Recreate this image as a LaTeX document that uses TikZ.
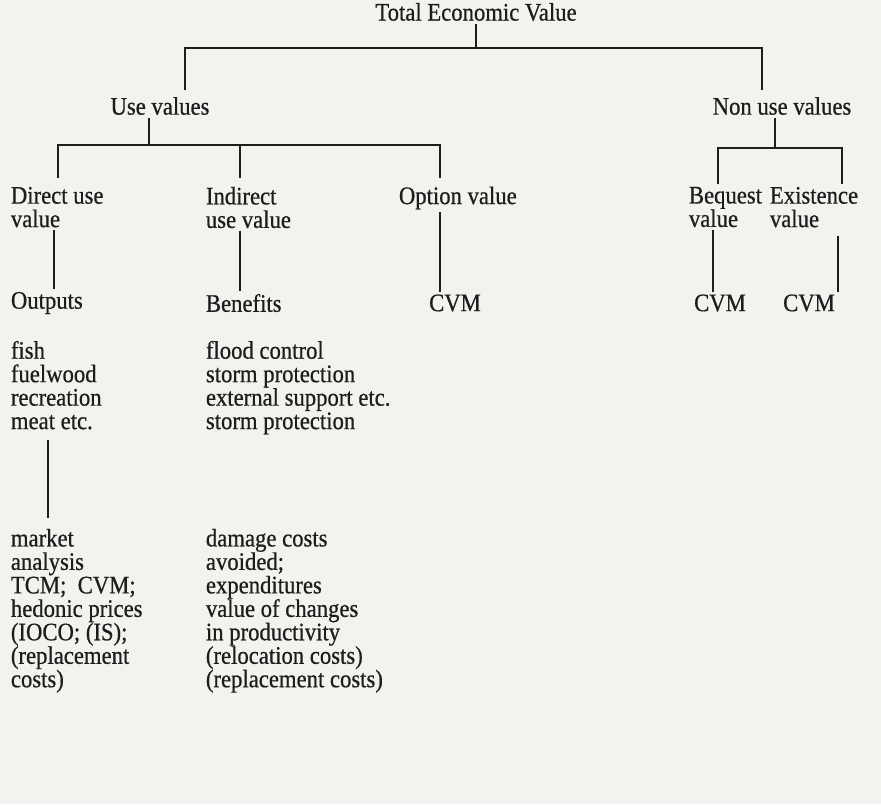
\documentclass[tikz,border=0pt]{standalone}
\usepackage{fontspec}
\setmainfont{Liberation Serif}[FakeStretch=0.9, FakeBold=0.6]
\usepackage{xcolor}
\definecolor{paper}{RGB}{244,242,239}
\definecolor{ink}{RGB}{30,28,28}

\begin{document}
\begin{tikzpicture}[
		x=0.75pt, y=-0.75pt,
		t/.style = {font=\fontsize{18.9}{17.6}\selectfont, text=ink, inner sep=2pt, align=left},
		l/.style = {draw=ink, line width=1.5pt}
		]
		
		%Paper
		\fill[paper] (0,0) rectangle (881,804);
		
		%Nodes
		\node[t]					(tev)	at	(476,12)	{Total Economic Value};
		\node[t]					(uv)	at	(160,106)	{Use values};
		\node[t]					(nuv)	at	(782,106)	{Non use values};
		\node[t, anchor=north west]	(duv)	at	(8,184)		{Direct use\\value};
		\node[t, anchor=north west]	(iuv)	at	(203,184)	{Indirect\\use value};
		\node[t, anchor=west]		(opt)	at	(396,198)	{Option value};
		\node[t, anchor=north west]	(beq)	at	(686,184)	{Bequest\\value};
		\node[t, anchor=north west]	(ext)	at	(767,184)	{Existence\\value};
		\node[t, anchor=west]		(out)	at	(8,303)		{Outputs};
		\node[t, anchor=west]		(ben)	at	(203,303)	{Benefits};
		\node[t]					(cvm1)	at	(455,303)	{CVM};
		\node[t]					(cvm2)	at	(720,303)	{CVM};
		\node[t]					(cvm3)	at	(809,303)	{CVM};
		\node[t, anchor=north west]	(goods)	at	(8,338)		{fish\\fuelwood\\recreation\\meat etc.};
		\node[t, anchor=north west]	(serv)	at	(203,338)	{flood control\\storm protection\\external support etc.\\storm protection};
		\node[t, anchor=north west]	(meth1)	at	(8,526)		{market\\analysis\\TCM;~ CVM;\\hedonic prices\\(IOCO; (IS);\\(replacement\\costs)};
		\node[t, anchor=north west]	(meth2)	at	(203,526)	{damage costs\\avoided;\\expenditures\\value of changes\\in productivity\\(relocation costs)\\(replacement costs)};
		
		%Joints
		\coordinate	(j0)	at	(476,48);
		\coordinate	(j1)	at	(149,145);
		\coordinate	(j2)	at	(775,148);
		\coordinate	(uvin)	at	(185,90);
		\coordinate	(nuvin)	at	(762,90);
		\coordinate	(duvin)	at	(58,178);
		\coordinate	(iuvin)	at	(240,178);
		\coordinate	(optin)	at	(440,178);
		\coordinate	(beqin)	at	(718,184);
		\coordinate	(extin)	at	(842,184);
		\coordinate	(c0)	at	(48,0);
		\coordinate	(c1)	at	(54,0);
		\coordinate	(c2)	at	(240,0);
		\coordinate	(c3)	at	(440,0);
		\coordinate	(c4)	at	(713,0);
		\coordinate	(c5)	at	(838,0);
		
		%Lines
		\draw[l]	(tev.south)		--	(j0);
		\draw[l]	(uvin)	|-	(j0)	-|	(nuvin);
		\draw[l]	(j1 |- uv.south)	--	(j1);
		\draw[l]	(duvin)	|-	(j1)	-|	(optin);
		\draw[l]	(iuvin)	--	(iuvin |- j1);
		\draw[l]	(j2 |- nuv.south)	--	(j2);
		\draw[l]	(beqin)	|-	(j2)	-|	(extin);
		\draw[l]	(duv.south -| c1)	--	(out.north -| c1);
		\draw[l]	(iuv.south -| c2)	--	(ben.north -| c2);
		\draw[l]	(opt.south -| c3)	--	(cvm1.north -| c3);
		\draw[l]	(beq.south -| c4)	--	(cvm2.north -| c4);
		\draw[l, shorten <=4pt]	(ext.south -| c5)	--	(cvm3.north -| c5);
		\draw[l, shorten <=6pt, shorten >=6pt]	(goods.south -| c0)	--	(meth1.north -| c0);
	\end{tikzpicture}
\end{document}
